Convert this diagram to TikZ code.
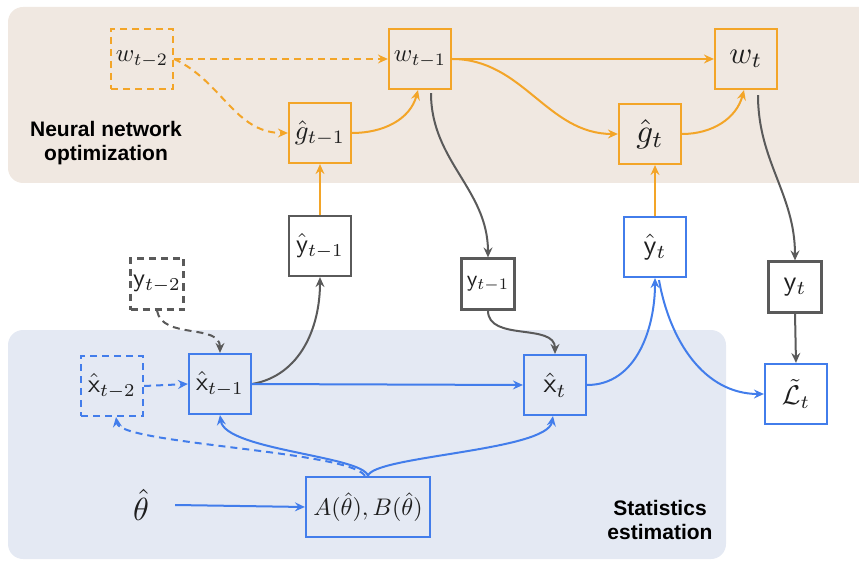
\documentclass[tikz,border=0pt]{standalone}
\usepackage{graphicx}
\usepackage{fontspec}
\newfontfamily\labfont{Liberation Sans}
\usetikzlibrary{arrows.meta}
\definecolor{oc}{RGB}{243,165,40}
\definecolor{bc}{RGB}{66,125,235}
\definecolor{gc}{RGB}{90,90,90}
\definecolor{beigebg}{RGB}{240,232,225}
\definecolor{bluebg}{RGB}{228,233,243}
\definecolor{txt}{RGB}{30,30,30}
\newcommand{\mt}[2]{\scalebox{#1}{$#2$}}
\begin{document}
\begin{tikzpicture}[x=1pt,y=-1pt,
  >={Stealth[length=10pt,width=9pt,inset=3.5pt]},
  bx/.style={draw, line width=2.2pt, minimum width=62pt, minimum height=60pt, inner sep=0pt, text=txt},
  sbx/.style={bx, minimum width=53pt, minimum height=51pt},
  ob/.style={bx, draw=oc},
  bb/.style={bx, draw=bc},
  gb/.style={sbx, draw=gc},
  dsh/.style={dash pattern=on 7pt off 5pt},
  oline/.style={draw=oc, line width=2pt, ->},
  bline/.style={draw=bc, line width=2pt, ->},
  gline/.style={draw=gc, line width=2pt, ->},
  lab/.style={font=\labfont\bfseries\fontsize{21}{24}\selectfont, align=center, text=black, inner sep=0pt}
]
\useasboundingbox (0,0) rectangle (859,561);
\begin{scope}
\clip (0,0) rectangle (859,561);
\fill[beigebg, rounded corners=15pt] (8,7) rectangle (890,183);
\fill[bluebg, rounded corners=15pt] (8,330) rectangle (726,559);
\end{scope}

\node[lab] (nlab) at (106,143) {Neural network\\optimization};
\node[lab] (slab) at (660,520) {Statistics\\estimation};

% orange nodes
\node[ob, dsh] (w2) at (142,59) {\mt{2.5}{w_{t-2}}};
\node[ob] (w1) at (420,59) {\mt{2.5}{w_{t-1}}};
\node[ob] (wt) at (746,59) {\mt{3.1}{w_t}};
\node[ob] (g1) at (320,133) {\mt{2.7}{\hat g_{t-1}}};
\node[ob] (gt) at (650,134) {\mt{3.3}{\hat g_t}};

% gray nodes
\node[bx, draw=gc] (yh1) at (320,246) {\mt{2.6}{\hat{\mathsf{y}}_{t-1}}};
\node[gb, dsh] (y2) at (157,284) {\mt{2.6}{\mathsf{y}_{t-2}}};
\node[gb] (y1) at (488,284) {\mt{2.3}{\mathsf{y}_{t-1}}};
\node[gb] (yt) at (795,287) {\mt{2.8}{\mathsf{y}_t}};

% blue nodes
\node[bb] (yht) at (655,247) {\mt{2.8}{\hat{\mathsf{y}}_t}};
\node[bb, dsh] (x2) at (112,386) {\mt{2.6}{\hat{\mathsf{x}}_{t-2}}};
\node[bb] (x1) at (220,384) {\mt{2.6}{\hat{\mathsf{x}}_{t-1}}};
\node[bb] (xt) at (555,385) {\mt{2.8}{\hat{\mathsf{x}}_t}};
\node[bb] (L) at (796,394) {\mt{2.7}{\tilde{\mathcal{L}}_t}};
\node[bb, minimum width=124pt] (A) at (368,507) {\mt{2.4}{A(\hat\theta),B(\hat\theta)}};
\node[inner sep=0pt, minimum width=68pt, text=txt] (th) at (141,505) {\mt{3.2}{\hat\theta}};

% orange connectors
\draw[oline, dsh] (w2.east) -- (w1.west);
\draw[oline, dsh] (w2.east) to[out=-25,in=180] (g1.west);
\draw[oline] (g1.east) to[out=0,in=-105] ([xshift=-2pt]w1.south);
\draw[oline] (w1.east) -- (wt.west);
\draw[oline] (w1.east) to[out=0,in=180] (gt.west);
\draw[oline] (gt.east) to[out=0,in=-105] ([xshift=-2pt]wt.south);
\draw[oline] (yh1.north) -- (g1.south);
\draw[oline] (yht.north) -- (yht.north |- gt.south);

% gray connectors
\draw[gline] ([xshift=11pt,yshift=-3pt]w1.south) to[out=-90,in=90] (y1.north);
\draw[gline] ([xshift=12pt,yshift=-5pt]wt.south) to[out=-90,in=90] (yt.north);
\draw[gline] (x1.east) to[out=10,in=-90] (yh1.south);
\draw[gline, dsh] (y2.south) to[out=-80,in=90] (x1.north);
\draw[gline] (y1.south) to[out=-90,in=90] (xt.north);
\draw[gline] (yt.south) -- (L.north);

% blue connectors
\draw[bline, dsh] (x2.east) -- (x1.west);
\draw[bline] (x1.east) -- (xt.west);
\draw[bline] (xt.east) to[out=0,in=-90] (yht.south);
\draw[bline] ([xshift=4pt,yshift=-2pt]yht.south) to[out=-80,in=180] (L.west);
\draw[bline] (A.north) .. controls ([xshift=-5pt,yshift=20pt]A.north) and ([xshift=5pt,yshift=-35pt]x1.south) .. (x1.south);
\draw[bline] (A.north) .. controls ([xshift=5pt,yshift=20pt]A.north) and ([xshift=-8pt,yshift=-35pt]xt.south) .. ([xshift=-2pt]xt.south);
\draw[bline, dsh] ([xshift=-3pt]A.north) .. controls ([xshift=-18pt,yshift=25pt]A.north) and ([xshift=8pt,yshift=-27pt]x2.south) .. ([xshift=4pt]x2.south);
\draw[bline] (th.east) -- (A.west);
\end{tikzpicture}
\end{document}
